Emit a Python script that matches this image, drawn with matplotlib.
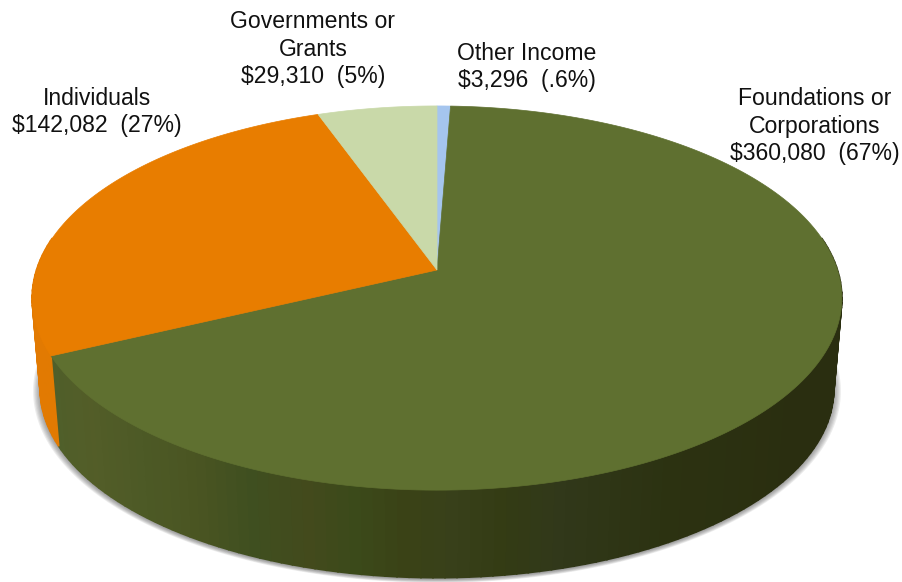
import numpy as np
import matplotlib
matplotlib.use('Agg')
import matplotlib.pyplot as plt

plt.rcParams['font.family'] = ['Liberation Sans', 'DejaVu Sans']

# clockwise from 12 o'clock
categories = ['Other Income', 'Foundations or\nCorporations', 'Individuals', 'Governments or\nGrants']
amounts = [3296, 360080, 142082, 29310]
amount_labels = ['$3,296  (.6%)', '$360,080  (67%)', '$142,082  (27%)', '$29,310  (5%)']
top_colors = ['#a5c5ee', '#5f7030', '#e87d00', '#c9d9a9']
wall_colors = ['#8fa9c9', '#4f5c28', '#e27a02', '#aab98f']

# wall shade of the big slice, going round from the right side to the left
shade_angles = [90, 125, 150, 165, 172, 178, 184, 190, 196, 204, 212, 222, 232, 245]
shade_colors = ['#2a2e10', '#2a2e10', '#2c3211', '#31381a', '#343c14', '#38401a',
                '#3a4216', '#3b4a1a', '#434a1c', '#3f4f20', '#4a5522', '#4d5a26',
                '#535d28', '#4f5f2a']

label_x = [527, 815, 97, 313]
label_y = [67, 126, 112, 49]

cx, cy = 437, 270
a, b, k = 400.5, 188, 0.146
drop, shrink = 92, 0.98


def project(theta, lower=False):
    # perspective view of the unit disc, theta in degrees
    t = np.radians(theta)
    u, v = np.sin(t), np.cos(t)
    w = 1 + k * v
    x, y = a * u / w, -b * v / w
    if lower:
        return cx + shrink * x, cy + drop + shrink * y
    return cx + x, cy + y


def mix(c1, c2, f):
    c1 = np.array(matplotlib.colors.to_rgb(c1))
    c2 = np.array(matplotlib.colors.to_rgb(c2))
    return tuple(c1 + (c2 - c1) * f)


def wall_shade(theta):
    i = np.searchsorted(shade_angles, theta) - 1
    i = min(max(i, 0), len(shade_angles) - 2)
    f = (theta - shade_angles[i]) / (shade_angles[i + 1] - shade_angles[i])
    return mix(shade_colors[i], shade_colors[i + 1], min(max(f, 0), 1))


fig = plt.figure(figsize=(9.02, 5.82), dpi=100)
ax = fig.add_axes([0, 0, 1, 1])
ax.set_xlim(0, 902)
ax.set_ylim(582, 0)
ax.axis('off')

fractions = np.array(amounts) / sum(amounts)
edges = np.concatenate([[0], np.cumsum(fractions) * 360])

# soft shadow round the base
ring = np.linspace(0, 360, 361)
bx, by = project(ring, lower=True)
mx, my = cx, cy + drop + 20
for g in np.linspace(1.018, 1.0, 7):
    ax.fill(mx + (bx - mx) * g, my + (by - my) * g + 1.5, color='#555555', alpha=0.11, lw=0, zorder=1)

# side wall, front part only
for i in range(len(amounts)):
    start, end = max(edges[i], 80), min(edges[i + 1], 280)
    if end <= start:
        continue
    steps = np.arange(start, end, 1.5)
    for t0 in steps:
        t1 = min(t0 + 1.5, end)
        x0, y0 = project(t0)
        x1, y1 = project(t1)
        x2, y2 = project(t1, lower=True)
        x3, y3 = project(t0, lower=True)
        if categories[i].startswith('Foundations'):
            c = wall_shade((t0 + t1) / 2)
        else:
            c = wall_colors[i]
        ax.fill([x0, x1, x2, x3], [y0, y1, y2, y3], color=c, lw=1.2, zorder=2)

# top face
for i in range(len(amounts)):
    th = np.linspace(edges[i], edges[i + 1], 200)
    x, y = project(th)
    ax.fill(np.r_[cx, x], np.r_[cy, y], color=top_colors[i], lw=0.5, zorder=3)

for i in range(len(categories)):
    ax.text(label_x[i], label_y[i], categories[i] + '\n' + amount_labels[i], ha='center', va='center',
            fontsize=16.6, color='#111111', linespacing=1.25, zorder=5)

fig.savefig('out.png', dpi=100)
